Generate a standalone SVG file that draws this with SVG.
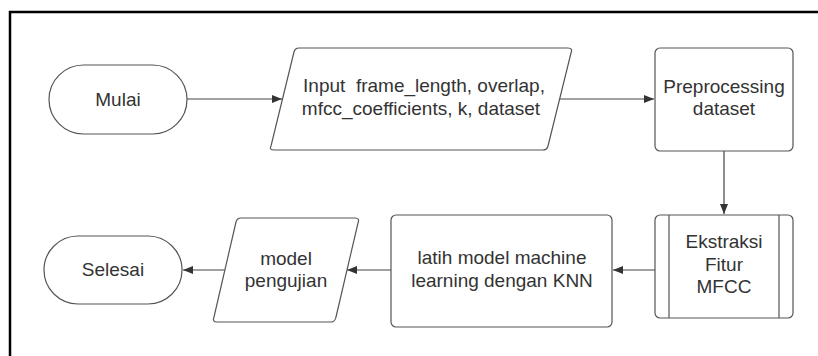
<svg xmlns="http://www.w3.org/2000/svg" width="818" height="356" viewBox="0 0 818 356">
<defs>
<style>
.s{fill:#fff;stroke:#555;stroke-width:1.2}
.t{font-family:"Liberation Sans",Arial,sans-serif;font-size:19px;fill:#333;text-anchor:middle}
.c{fill:none;stroke:#444;stroke-width:1.2}
</style>
<marker id="a" viewBox="0 0 10 8" refX="10" refY="4" markerWidth="10" markerHeight="8" markerUnits="userSpaceOnUse" orient="auto">
<path d="M0,0 L10,4 L0,8 Z" fill="#333"/>
</marker>
</defs>
<rect width="818" height="356" fill="#fff"/>
<rect x="10" y="12" width="820" height="360" fill="none" stroke="#000" stroke-width="2.5"/>
<g id="connectors">
<path class="c" d="M187,99 H282" marker-end="url(#a)"/>
<path class="c" d="M560,99 H654" marker-end="url(#a)"/>
<path class="c" d="M724,151 V214" marker-end="url(#a)"/>
<path class="c" d="M655,270 H613" marker-end="url(#a)"/>
<path class="c" d="M391,270 H347" marker-end="url(#a)"/>
<path class="c" d="M225,270 H183" marker-end="url(#a)"/>
</g>
<g id="mulai">
<rect class="s" x="49" y="65" width="138" height="69" rx="34.5"/>
<text class="t" x="118" y="106">Mulai</text>
</g>
<g id="input">
<path class="s" d="M299,48 H568 Q573,48 571,53 L548,146 Q547,150 543,150 H274 Q269,150 271,146 L294,52 Q295,48 299,48 Z"/>
<text class="t" x="424" y="92" xml:space="preserve">Input  frame_length, overlap,</text>
<text class="t" x="421" y="115">mfcc_coefficients, k, dataset</text>
</g>
<g id="preprocessing">
<rect class="s" x="655" y="48" width="138" height="103" rx="5"/>
<text class="t" x="724" y="93">Preprocessing</text>
<text class="t" x="724" y="115">dataset</text>
</g>
<g id="ekstraksi">
<rect class="s" x="655" y="215" width="138" height="103" rx="5"/>
<path class="s" d="M669,215 V318 M779,215 V318"/>
<text class="t" x="724" y="248">Ekstraksi</text>
<text class="t" x="724" y="271">Fitur</text>
<text class="t" x="724" y="293">MFCC</text>
</g>
<g id="latih">
<rect class="s" x="391" y="215" width="221" height="112" rx="5"/>
<text class="t" x="502" y="264">latih model machine</text>
<text class="t" x="502" y="287">learning dengan KNN</text>
</g>
<g id="model">
<path class="s" d="M241,218 H355 Q360,218 358,223 L336,317 Q335,322 331,322 H217 Q212,322 214,317 L236,222 Q237,218 241,218 Z"/>
<text class="t" x="286" y="265">model</text>
<text class="t" x="286" y="287">pengujian</text>
</g>
<g id="selesai">
<rect class="s" x="44" y="236" width="138" height="68" rx="34"/>
<text class="t" x="113" y="276">Selesai</text>
</g>
</svg>
